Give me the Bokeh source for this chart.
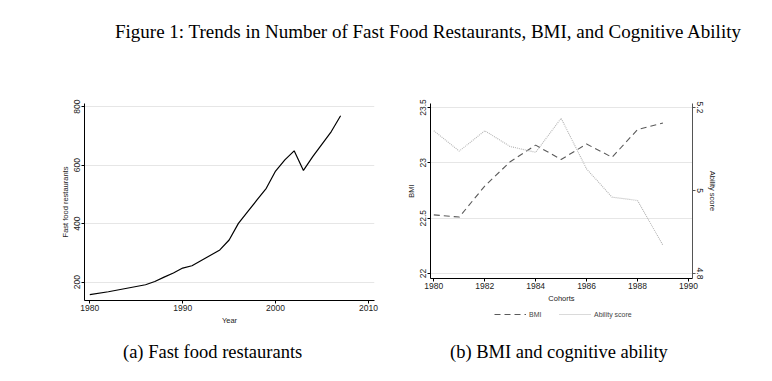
from bokeh.plotting import figure
from bokeh.models import (Range1d, LinearAxis, FixedTicker, Legend, LegendItem,
                          Div)
from bokeh.layouts import column, row
from bokeh.embed import file_html
from bokeh.resources import INLINE

# ---- data ----
ff_years = [1980, 1982, 1984, 1986, 1987, 1988, 1989, 1990, 1991, 1992, 1993,
            1994, 1995, 1996, 1997, 1998, 1999, 2000, 2001, 2002, 2003, 2004,
            2005, 2006, 2007]
ff_count = [157, 167, 179, 191, 202, 217, 231, 248, 256, 274, 292, 310, 344,
            401, 441, 481, 521, 580, 618, 649, 582, 629, 672, 715, 769]

cohorts = [1980, 1981, 1982, 1983, 1984, 1985, 1986, 1987, 1988, 1989]
bmi = [22.53, 22.51, 22.79, 23.01, 23.16, 23.03, 23.17, 23.05, 23.30, 23.36]
ability = [5.144, 5.095, 5.144, 5.106, 5.092, 5.174, 5.052, 4.984, 4.976, 4.868]

ff_xticks = [1980, 1990, 2000, 2010]
ff_yticks = [200, 400, 600, 800]
coh_xticks = [1980, 1982, 1984, 1986, 1988, 1990]
bmi_ticks = [22, 22.5, 23, 23.5]
bmi_labels = ["22", "22.5", "23", "23.5"]
ab_ticks = [4.8, 5.0, 5.2]
ab_labels = ["4.8", "5", "5.2"]

SANS = "Liberation Sans"
SERIF = "Liberation Serif"
TICK_FS = "8.5px"
LAB_FS = "7.5px"
BMI_STYLE = dict(line_color="#5a5a5a", line_width=1.1, line_dash="6 4")
AB_STYLE = dict(line_color="#b4b4b4", line_width=1.1, line_dash="1 1")


def style_axis(ax, color="black"):
    ax.axis_line_color = color
    ax.major_tick_line_color = color
    ax.minor_tick_line_color = None
    ax.major_tick_out = 3
    ax.major_tick_in = 0
    ax.major_label_text_font = SANS
    ax.major_label_text_font_size = TICK_FS
    ax.major_label_text_color = "#222222"
    ax.axis_label_text_font = SANS
    ax.axis_label_text_font_size = LAB_FS
    ax.axis_label_text_font_style = "normal"
    ax.axis_label_text_color = "#222222"
    ax.axis_label_standoff = 2
    ax.major_label_standoff = 1


# ---- panel (a) ----
pa = figure(frame_width=290, frame_height=197, output_backend="svg",
            toolbar_location=None,
            x_range=Range1d(1979.43, 2010.65), y_range=Range1d(137, 811),
            min_border_left=84, min_border_right=14, min_border_top=45,
            min_border_bottom=38, outline_line_color=None,
            background_fill_color="white", border_fill_color="white")
pa.line(ff_years, ff_count, line_color="black", line_width=1.2)
pa.xaxis.ticker = FixedTicker(ticks=ff_xticks)
pa.yaxis.ticker = FixedTicker(ticks=ff_yticks)
pa.xaxis.axis_label = "Year"
pa.yaxis.axis_label = "Fast food restaurants"
pa.yaxis.major_label_orientation = "parallel"
for ax in pa.xaxis + pa.yaxis:
    style_axis(ax)
pa.xgrid.grid_line_color = None
pa.ygrid.grid_line_color = "#e6e6e6"
pa.ygrid.grid_line_width = 1

# ---- panel (b) ----
pb = figure(frame_width=262, frame_height=175, output_backend="svg",
            toolbar_location=None,
            x_range=Range1d(1979.87, 1990.16), y_range=Range1d(21.955, 23.536),
            min_border_left=42, min_border_right=72, min_border_top=45,
            min_border_bottom=28, outline_line_color=None,
            background_fill_color="white", border_fill_color="white")
pb.extra_y_ranges = {"ab": Range1d(4.788, 5.2096)}
pb.line(cohorts, bmi, **BMI_STYLE)
pb.line(cohorts, ability, y_range_name="ab", **AB_STYLE)
pb.xaxis.ticker = FixedTicker(ticks=coh_xticks)
pb.yaxis.ticker = FixedTicker(ticks=bmi_ticks)
pb.yaxis.major_label_overrides = dict(zip(bmi_ticks, bmi_labels))
pb.xaxis.axis_label = "Cohorts"
pb.yaxis.axis_label = "BMI"
pb.yaxis.major_label_orientation = "parallel"
rax = LinearAxis(y_range_name="ab", axis_label="Ability score",
                 ticker=FixedTicker(ticks=ab_ticks),
                 major_label_overrides=dict(zip(ab_ticks, ab_labels)),
                 major_label_orientation="parallel")
pb.add_layout(rax, "right")
for ax in pb.xaxis + pb.yaxis:
    style_axis(ax)
style_axis(rax, "#555555")
pb.xgrid.grid_line_color = None
pb.ygrid.grid_line_color = "#e6e6e6"
pb.ygrid.grid_line_width = 1

# ---- legend strip under panel (b): same series, ranges keep them off-frame ----
pl = figure(width=376, height=16, output_backend="svg", toolbar_location=None,
            x_range=Range1d(0, 1), y_range=Range1d(0, 1),
            x_axis_location=None, y_axis_location=None,
            min_border=0, outline_line_color=None,
            background_fill_color="white", border_fill_color="white")
pl.xgrid.grid_line_color = None
pl.ygrid.grid_line_color = None
lg_bmi = pl.line(cohorts, bmi, **BMI_STYLE)
lg_ab = pl.line(cohorts, ability, **AB_STYLE)
legend = Legend(items=[LegendItem(label="BMI", renderers=[lg_bmi]),
                       LegendItem(label="Ability score", renderers=[lg_ab])],
                orientation="horizontal", location=(64, 3),
                border_line_color=None, background_fill_alpha=0,
                label_text_font=SANS, label_text_font_size="7px",
                glyph_width=32, glyph_height=10, label_height=10,
                label_standoff=3, spacing=10, padding=0, margin=0)
pl.add_layout(legend)

title = Div(text="Figure 1: Trends in Number of Fast Food Restaurants, BMI, and Cognitive Ability",
            width=764, height=58, margin=0,
            styles={"font-family": SERIF, "font-size": "19px",
                    "padding-top": "18px", "padding-left": "115px",
                    "white-space": "nowrap", "color": "black"})

cap_style = {"font-family": SERIF, "font-size": "18.5px", "padding-top": "1px",
             "white-space": "nowrap", "color": "black"}
cap_a = Div(text="(a) Fast food restaurants", width=388, height=30, margin=0,
            styles=dict(cap_style, **{"padding-left": "123px"}))
cap_b = Div(text="(b) BMI and cognitive ability", width=376, height=30,
            margin=0, styles=dict(cap_style, **{"padding-left": "62px"}))

layout = column(title,
                row(pa, column(pb, pl, spacing=0), spacing=0),
                row(cap_a, cap_b, spacing=0),
                spacing=0)
open("out.html", "w").write(file_html(layout, INLINE))
